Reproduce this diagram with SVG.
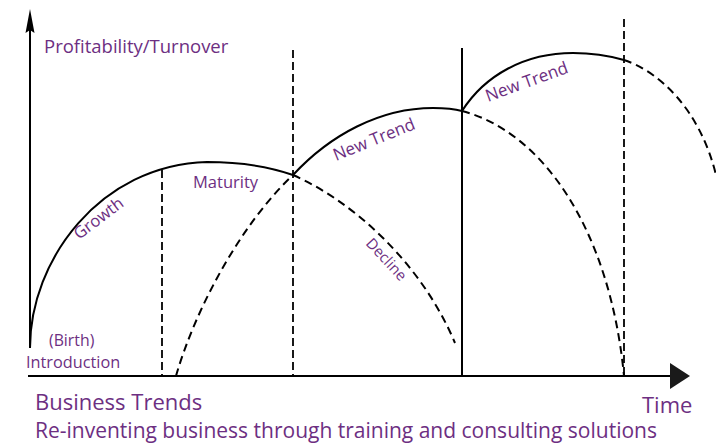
<svg xmlns="http://www.w3.org/2000/svg" width="716" height="447" viewBox="0 0 716 447">
<style>
.lbl{font-family:"Open Sans","Liberation Sans",sans-serif;fill:#6d2f82}
.solid{fill:none;stroke:#000;stroke-width:2}
.dash{fill:none;stroke:#000;stroke-width:2;stroke-dasharray:8 5}
.vdash{fill:none;stroke:#000;stroke-width:1.8;stroke-dasharray:8 4}
</style>
<rect width="716" height="447" fill="#fff"/>
<g id="axes">
<line x1="30" y1="28" x2="30" y2="348" class="solid"/>
<polygon points="30,9 34.5,33 30,30 25.5,33" fill="#000"/>
<line x1="28" y1="376" x2="672" y2="376" class="solid"/>
<polygon points="670,363 690,376 670,389" fill="#1a1a1a"/>
</g>
<g id="dividers">
<line x1="162" y1="170" x2="162" y2="376" class="vdash"/>
<line x1="293" y1="50" x2="293" y2="376" class="vdash"/>
<line x1="462" y1="48" x2="462" y2="376" class="solid"/>
<line x1="624" y1="19" x2="624" y2="376" class="vdash"/>
</g>
<g id="connectors">
<path id="trend1" class="solid" d="M30,348 C30,260 100,165 207,162 C240,162 270,167 293,175"/>
<path id="decline1" class="dash" d="M293,175 C350,200 420,260 455,343"/>
<path id="rise2" class="dash" d="M176,376 C195,310 240,225 293,175"/>
<path id="trend2" class="solid" d="M293,175 C330,135 380,108 433,108 C445,108 455,109 462,111"/>
<path id="decline2" class="dash" d="M462,111 C543,132 610,230 624,376"/>
<path id="trend3" class="solid" d="M462,111 C485,75 525,53 573,53 C595,53 610,56 624,60"/>
<path id="decline3" class="dash" d="M624,60 C660,72 700,110 716,175"/>
</g>
<g id="labels">
<text class="lbl" x="44" y="53" font-size="18.5">Profitability/Turnover</text>
<text class="lbl" x="193" y="188" font-size="16.5">Maturity</text>
<text class="lbl" font-size="16.5" transform="translate(79,240) rotate(-37)">Growth</text>
<text class="lbl" font-size="17" transform="translate(336,161) rotate(-22)">New Trend</text>
<text class="lbl" font-size="17" transform="translate(488,102) rotate(-20)">New Trend</text>
<text class="lbl" font-size="15" transform="translate(365,244) rotate(47)">Decline</text>
<text class="lbl" x="49" y="346" font-size="15.8">(Birth)</text>
<text class="lbl" x="26" y="368" font-size="16.3">Introduction</text>
<text class="lbl" x="35" y="410" font-size="22">Business Trends</text>
<text class="lbl" x="642" y="413" font-size="22">Time</text>
<text class="lbl" x="35" y="438" font-size="21">Re-inventing business through training and consulting solutions</text>
</g>
</svg>
